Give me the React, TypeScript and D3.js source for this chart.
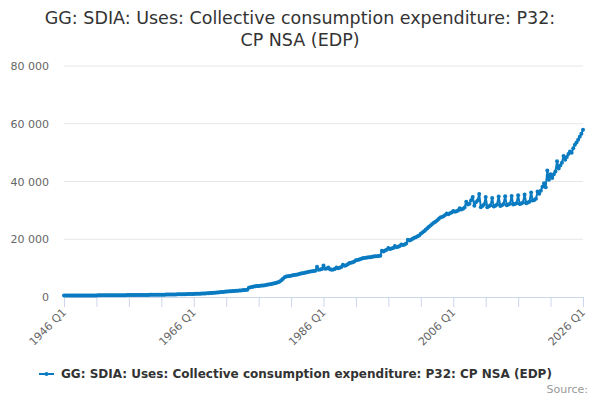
import React from 'react';
import * as d3 from 'd3';

// chart text
const titleLines = ['GG: SDIA: Uses: Collective consumption expenditure: P32:', 'CP NSA (EDP)'];
const seriesName = 'GG: SDIA: Uses: Collective consumption expenditure: P32: CP NSA (EDP)';
const creditText = 'Source:';

// quarterly values, £m, starting 1946 Q1
const firstYear = 1946;
const values: number[] = [
  520, 500, 490, 500, // 1946
  500, 490, 500, 510,
  510, 510, 520, 520,
  530, 530, 530, 540,
  540, 540, 550, 550, // 1950
  560, 570, 570, 580,
  590, 590, 600, 600,
  600, 610, 610, 610,
  620, 620, 620, 630,
  630, 640, 640, 650, // 1955
  650, 660, 660, 670,
  680, 680, 690, 700,
  700, 710, 720, 720,
  730, 740, 750, 750,
  760, 770, 780, 790, // 1960
  800, 810, 820, 830,
  840, 850, 860, 880,
  890, 900, 920, 930,
  950, 960, 980, 990,
  1010, 1020, 1040, 1050, // 1965
  1070, 1090, 1110, 1130,
  1160, 1180, 1210, 1240,
  1280, 1320, 1360, 1400,
  1450, 1500, 1550, 1600,
  1650, 1700, 1760, 1820, // 1970
  1870, 1920, 1970, 2020,
  2060, 2110, 2150, 2200,
  2250, 2290, 2340, 2400,
  2450, 2520, 3200, 3400,
  3500, 3600, 3700, 3800, // 1975
  3850, 3900, 3950, 4000,
  4100, 4200, 4300, 4400,
  4500, 4650, 4800, 4950,
  5100, 5400, 5800, 6300,
  6800, 7100, 7200, 7300, // 1980
  7400, 7500, 7600, 7700,
  7800, 7950, 8100, 8200,
  8300, 8450, 8600, 8750,
  8850, 8900, 9000, 9100,
  10500, 9400, 9500, 9700, // 1985
  10900, 9800, 9900, 10200,
  9600, 9400, 9500, 9700,
  10200, 10000, 10100, 10400,
  11200, 10800, 11000, 11300,
  11800, 11900, 12000, 12300, // 1990
  12700, 12800, 13000, 13200,
  13400, 13500, 13600, 13700,
  13800, 13800, 13900, 14000,
  14100, 14100, 14200, 14300,
  16000, 15800, 16100, 16400, // 1995
  17000, 16600, 16800, 17000,
  17700, 17200, 17400, 17700,
  18200, 18000, 18200, 18500,
  19800, 19600, 19800, 20200,
  20500, 20700, 21000, 21300, // 2000
  21900, 22300, 22800, 23300,
  23800, 24300, 24800, 25300,
  25700, 26100, 26500, 27000,
  27500, 27700, 28000, 28400,
  28900, 28700, 29000, 29300, // 2005
  29800, 29500, 29700, 30000,
  30700, 30300, 30600, 31000,
  33000, 32000, 32300, 33500,
  34600, 31600, 32800, 33400,
  35700, 31100, 31500, 32000, // 2010
  34600, 31100, 31400, 31800,
  34300, 31300, 31600, 32000,
  34800, 31500, 31800, 32200,
  34900, 31800, 32000, 32300,
  35000, 32000, 32200, 32500, // 2015
  35200, 32200, 32400, 32700,
  35500, 32500, 32700, 33000,
  36200, 33400, 33600, 34000,
  36500, 35800, 36800, 38200,
  39400, 38000, 43800, 40600, // 2020
  42500, 41200, 42500, 43500,
  47000, 44500, 45500, 46500,
  48800, 47500, 48500, 49500,
  50400, 50000, 51500, 52700,
  53500, 54500, 55500, 56500, // 2025
  57900,
];

const yTicks = [0, 20000, 40000, 60000, 80000];
const xTickLabels = ['1946 Q1', '1966 Q1', '1986 Q1', '2006 Q1', '2026 Q1'];
const xTickStep = 20; // quarters between tick marks

const categories = values.map((_, i) => `${firstYear + Math.floor(i / 4)} Q${(i % 4) + 1}`);

const font = '"DejaVu Sans", Verdana, sans-serif';
const lineColor = '#0a7bc1';

const App: React.FC = () => {
  const width = 600;
  const height = 400;
  const plot = { left: 64, right: 583, top: 66, bottom: 297 };

  const x = d3.scalePoint<string>().domain(categories).range([plot.left, plot.right]);
  const y = d3.scaleLinear().domain([0, 80000]).range([plot.bottom, plot.top]);

  const line = d3
    .line<number>()
    .x((_, i) => x(categories[i])!)
    .y(d => y(d));

  const fmt = (v: number) => d3.format(',')(v).replace(/,/g, ' ');
  const tickCats = categories.filter((_, i) => i % xTickStep === 0);

  return (
    <svg
      width={width}
      height={height}
      style={{ position: 'absolute', left: 0, top: 0, background: '#fff' }}
      fontFamily={font}
    >
      {/* title */}
      {titleLines.map((t, i) => (
        <text key={t} x={width / 2} y={24 + i * 22} textAnchor="middle" fontSize={17.5} fill="#333">
          {t}
        </text>
      ))}

      {/* grid + y labels */}
      {yTicks.map(v => (
        <g key={v}>
          {v !== 0 && (
            <line x1={plot.left} x2={plot.right} y1={y(v)} y2={y(v)} stroke="#e6e6e6" strokeWidth={1} />
          )}
          <text x={49} y={y(v) + 4} textAnchor="end" fontSize={11} fill="#666">
            {fmt(v)}
          </text>
        </g>
      ))}

      {/* x axis */}
      <line x1={plot.left} x2={plot.right} y1={plot.bottom + 0.5} y2={plot.bottom + 0.5} stroke="#ccd6eb" />
      {tickCats.map(c => (
        <line
          key={c}
          x1={x(c)! + 0.5}
          x2={x(c)! + 0.5}
          y1={plot.bottom}
          y2={plot.bottom + 10}
          stroke="#ccd6eb"
        />
      ))}
      {xTickLabels.map(c => (
        <text
          key={c}
          transform={`translate(${x(c)! + 3}, ${plot.bottom + 16}) rotate(-45)`}
          textAnchor="end"
          fontSize={11}
          fill="#666"
        >
          {c}
        </text>
      ))}

      {/* series */}
      <path d={line(values) ?? ''} fill="none" stroke={lineColor} strokeWidth={2} strokeLinejoin="round" />
      {values.map((v, i) => (
        <circle key={i} cx={x(categories[i])} cy={y(v)} r={2} fill={lineColor} />
      ))}

      {/* legend */}
      <g transform="translate(39, 374)">
        <line x1={0} x2={15} y1={0} y2={0} stroke={lineColor} strokeWidth={2} />
        <circle cx={7.5} cy={0} r={2} fill={lineColor} />
        <text x={22} y={4} fontSize={12} fontWeight="bold" fill="#333">
          {seriesName}
        </text>
      </g>

      {/* credits */}
      <text x={588} y={393} textAnchor="end" fontSize={11} fill="#999">
        {creditText}
      </text>
    </svg>
  );
};

export default App;
